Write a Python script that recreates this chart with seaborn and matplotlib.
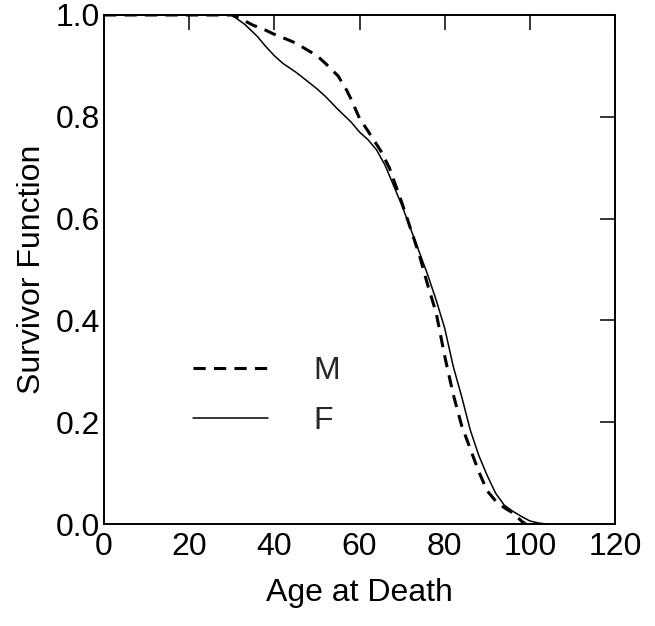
import matplotlib
matplotlib.use("Agg")
import matplotlib.pyplot as plt
import seaborn as sns
import pandas as pd

# Data
age_m = [0, 30, 32, 35, 38, 40, 43, 45, 48, 50, 52, 55, 57, 58, 60, 62, 65, 67, 70, 72, 74, 76, 78, 80, 82, 84, 86, 88, 90, 92, 94, 96, 98, 99]
surv_m = [1.0, 1.0, 0.993, 0.98, 0.97, 0.962, 0.952, 0.945, 0.93, 0.92, 0.905, 0.88, 0.852, 0.835, 0.797, 0.772, 0.733, 0.70, 0.63, 0.58, 0.53, 0.47, 0.415, 0.33, 0.255, 0.193, 0.148, 0.103, 0.065, 0.045, 0.032, 0.022, 0.006, 0.0]

age_f = [0, 30, 33, 36, 38, 40, 42, 45, 47, 50, 52, 55, 58, 60, 62, 64, 66, 68, 70, 72, 74, 76, 78, 80, 82, 84, 86, 88, 90, 92, 94, 96, 98, 100, 102, 104]
surv_f = [1.0, 1.0, 0.982, 0.958, 0.938, 0.92, 0.905, 0.888, 0.875, 0.855, 0.84, 0.814, 0.79, 0.77, 0.755, 0.735, 0.705, 0.665, 0.625, 0.58, 0.535, 0.49, 0.44, 0.385, 0.31, 0.25, 0.185, 0.135, 0.095, 0.06, 0.037, 0.025, 0.015, 0.006, 0.002, 0.0]

x_ticks = [0, 20, 40, 60, 80, 100, 120]
y_ticks = [0.0, 0.2, 0.4, 0.6, 0.8, 1.0]
labels = ["M", "F"]

sns.set_theme(style="white")
plt.rcParams["font.family"] = ["Liberation Sans", "DejaVu Sans"]

fig = plt.figure(figsize=(6.55, 6.26), dpi=100)
ax = fig.add_axes([104 / 655, 1 - 524 / 626, (615 - 104) / 655, (524 - 15) / 626])

df_m = pd.DataFrame({"age": age_m, "surv": surv_m})
df_f = pd.DataFrame({"age": age_f, "surv": surv_f})

sns.lineplot(data=df_m, x="age", y="surv", ax=ax, color="black", lw=2.2,
             linestyle=(0, (4, 2.7)), label=labels[0], estimator=None, sort=False)
sns.lineplot(data=df_f, x="age", y="surv", ax=ax, color="black", lw=1.1,
             label=labels[1], estimator=None, sort=False)

ax.set_xlim(0, 120)
ax.set_ylim(0, 1.0)
ax.set_xticks(x_ticks)
ax.set_yticks(y_ticks)
ax.set_xticklabels([str(t) for t in x_ticks])
ax.set_yticklabels([f"{t:.1f}" for t in y_ticks])
ax.tick_params(axis="both", which="both", direction="in", length=11, width=1.1,
               top=True, right=True, labelsize=23, colors="black", pad=3)
ax.tick_params(axis="x", pad=6)
for s in ax.spines.values():
    s.set_visible(True)
    s.set_color("black")
    s.set_linewidth(1.4)

ax.set_xlabel("Age at Death", fontsize=23, labelpad=11, color="black")
ax.set_ylabel("Survivor Function", fontsize=23, labelpad=6, color="black")

leg = ax.legend(loc="upper left", bbox_to_anchor=(0.175, 0.33), frameon=False,
                fontsize=23, handlelength=2.35, handletextpad=1.4, labelspacing=0.62,
                borderpad=0, borderaxespad=0)

fig.savefig("out.png", dpi=100)
